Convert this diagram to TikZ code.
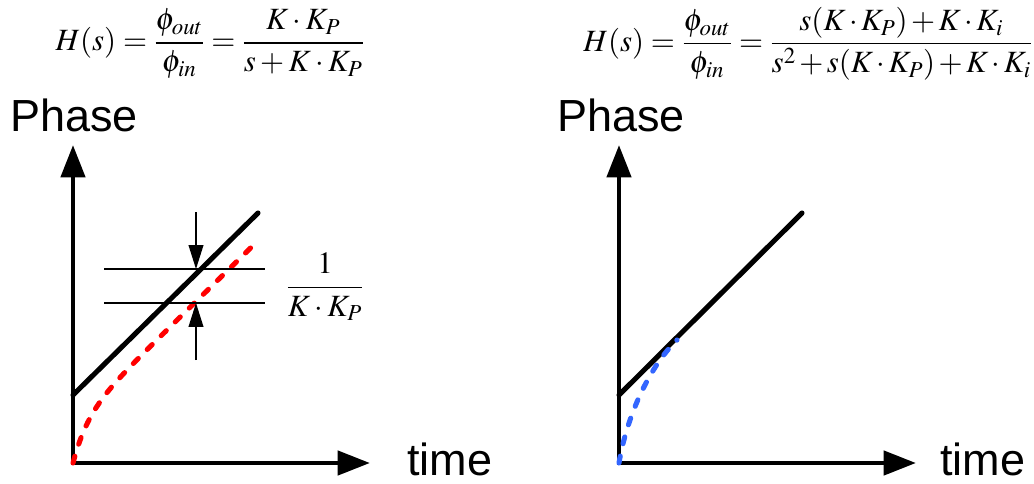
\documentclass[tikz,border=0pt]{standalone}
\usepackage{amsmath}
\usepackage[no-math]{fontspec}
\usepackage{mathptmx}
\newfontfamily\labelfont{Liberation Sans}
\usetikzlibrary{arrows.meta}
\definecolor{LagRed}{RGB}{255,0,0}
\definecolor{LagBlue}{RGB}{51,102,255}
\tikzset{
  axes/.style={line width=3.4pt,line join=miter,
    {Triangle[length=23pt,width=17pt]}-{Triangle[length=23pt,width=17pt]}},
  ramp/.style={line width=3.6pt,line cap=round},
  lag/.style={line width=3.6pt,line cap=round,dash pattern=on 5pt off 9pt},
  guide/.style={line width=1.3pt},
  marker/.style={line width=1pt,-{Triangle[length=17pt,width=10.5pt]}},
  lbl/.style={font=\labelfont\fontsize{32}{36}\selectfont,inner sep=0pt,anchor=base west},
  eqn/.style={font=\fontsize{22}{26}\selectfont,inner sep=0pt},
}

\begin{document}
\begin{tikzpicture}[x=0.025cm,y=-0.025cm]
\useasboundingbox (0,0) rectangle (1034,483);
% left panel: proportional loop
\coordinate (o1) at (73,463);
\coordinate (y1) at (73,145);
\coordinate (x1) at (370,463);
\draw[axes] (y1) -- (o1) -- (x1);
\coordinate (r1s) at (73,395);
\coordinate (r1e) at (258,213);
\draw[ramp] (r1s) -- (r1e);
\draw[lag,draw=LagRed] plot[domain=73:256,samples=70,smooth]
  (\x,{422-0.98*(\x-73)+41*exp(-(\x-73)/14.5)});
\coordinate (g1a) at (104,269);
\coordinate (g1b) at (265,269);
\coordinate (g2a) at (104,303);
\coordinate (g2b) at (265,303);
\draw[guide] (g1a) -- (g1b);
\draw[guide] (g2a) -- (g2b);
\coordinate (m1s) at (196,212);
\coordinate (m1e) at (196,269);
\coordinate (m2s) at (196,360);
\coordinate (m2e) at (196,303);
\draw[marker] (m1s) -- (m1e);
\draw[marker] (m2s) -- (m2e);
\node[lbl] (phase1) at (10,131) {Phase};
\node[lbl] (time1) at (407,475) {time};
\node[eqn] (h1) at (210,44)
  {$H(s)=\dfrac{\phi_{out}}{\phi_{in}}=\dfrac{K\cdot K_P}{s+K\cdot K_P}$};
\node[eqn] (gap) at (325,287) {$\dfrac{1}{K\cdot K_P}$};
% right panel: proportional-integral loop
\coordinate (o2) at (619,463);
\coordinate (y2) at (619,145);
\coordinate (x2) at (916,463);
\draw[axes] (y2) -- (o2) -- (x2);
\coordinate (r2s) at (619,395);
\coordinate (r2e) at (802,213);
\draw[ramp] (r2s) -- (r2e);
\coordinate (b2e) at (677,340);
\draw[lag,draw=LagBlue] (o2) .. controls (627,415) and (650,366) .. (b2e);
\node[lbl] (phase2) at (557,131) {Phase};
\node[lbl] (time2) at (940,475) {time};
\node[eqn] (h2) at (808,44)
  {$\medmuskip=2mu H(s)=\dfrac{\phi_{out}}{\phi_{in}}=\dfrac{s(K\cdot K_P)+K\cdot K_i}{s^2+s(K\cdot K_P)+K\cdot K_i}$};
\end{tikzpicture}
\end{document}
